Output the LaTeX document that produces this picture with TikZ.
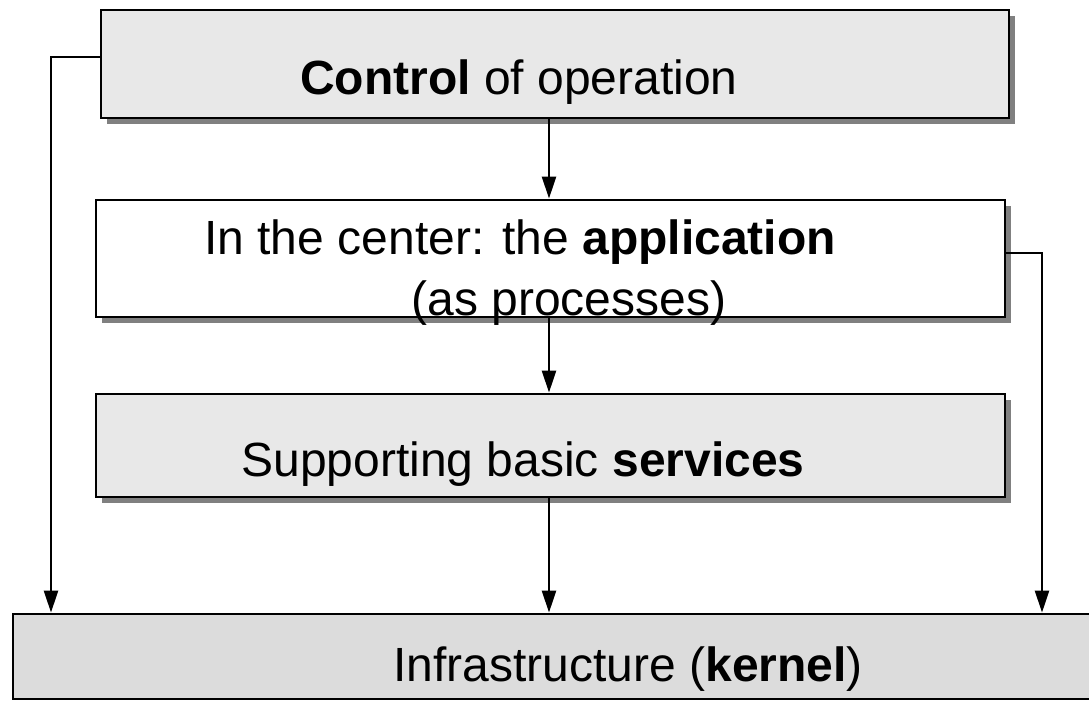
\documentclass[tikz,border=0pt]{standalone}
\usepackage{fontspec}
\setmainfont{Liberation Sans}
\usetikzlibrary{arrows.meta,calc}
\definecolor{boxgray}{HTML}{E8E8E8}
\definecolor{basegray}{HTML}{DCDCDC}
\definecolor{shadowgray}{HTML}{808080}
\tikzset{
  box/.style={draw=black,line width=2.8pt,rectangle,inner sep=0pt},
  shadowbox/.style={fill=shadowgray,draw=none,rectangle,inner sep=0pt},
  txt/.style={font=\fontsize{48}{56}\selectfont,inner sep=0pt,anchor=base},
  conn/.style={line width=2.4pt},
  arr/.style={conn,-{Triangle[length=22pt,width=14pt]}}
}
\begin{document}
\begin{tikzpicture}[x=1pt,y=-1pt]
\useasboundingbox (0,0) rectangle (1089,701);
% shadows
\node[shadowbox,minimum width=908pt,minimum height=108pt] (cshadow) at (561,70) {};
\node[shadowbox,minimum width=909pt,minimum height=117pt] (ashadow) at (556,264.5) {};
\node[shadowbox,minimum width=909pt,minimum height=103pt] (sshadow) at (556,451.5) {};
% boxes
\node[box,fill=boxgray,minimum width=908pt,minimum height=108pt] (control) at (555,64) {};
\node[box,fill=white,minimum width=909pt,minimum height=117pt] (app) at (550.5,258.5) {};
\node[box,fill=boxgray,minimum width=909pt,minimum height=103pt] (serv) at (550.5,445.5) {};
\node[box,fill=basegray,minimum width=1090pt,minimum height=85pt] (kernel) at (558,656.5) {};
% texts
\node[txt] (tcontrol) at (519,94) {\textbf{Control} of operation};
\node[txt] (tapp1) at (520,254) {In the center: the \textbf{application}};
\node[txt] (tapp2) at (569,315) {(as processes)};
\node[txt] (tserv) at (523,476) {Supporting basic \textbf{services}};
\node[txt] (tkern) at (628,681) {Infrastructure (\textbf{kernel})};
% connectors
\coordinate (lc) at (51,57);
\coordinate (rc) at (1042,253);
\draw[arr] ([yshift=7pt]control.west) -- (lc) -- (lc |- kernel.north);
\draw[arr] ([yshift=5.5pt]app.east) -- (rc) -- (rc |- kernel.north);
\draw[arr] (control.south -| 549,0) -- (app.north -| 549,0);
\draw[arr] (app.south -| 549,0) -- (serv.north -| 549,0);
\draw[arr] (serv.south -| 549,0) -- (kernel.north -| 549,0);
\end{tikzpicture}
\end{document}
